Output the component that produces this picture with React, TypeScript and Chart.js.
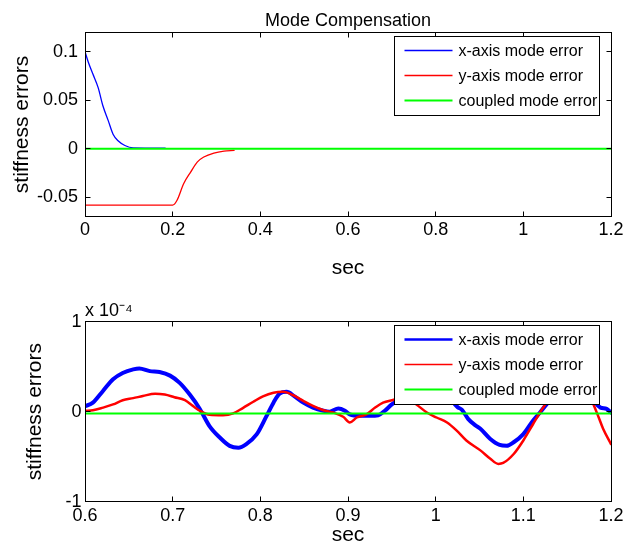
import { useEffect, useRef } from "react";
import { Chart, registerables } from "chart.js";

Chart.register(...registerables);

const FONT = "'Liberation Sans', Arial, Helvetica, sans-serif";

// ---------- shared ----------
const seriesLabels = ["x-axis mode error", "y-axis mode error", "coupled mode error"];
const seriesColors = ["#0000ff", "#ff0000", "#00ff00"];
const xAxisTitle = "sec";
const yAxisTitle = "stiffness errors";

// ---------- top panel ----------
const topTitle = "Mode Compensation";
const topXTime = [0, 0.007, 0.018, 0.03, 0.041, 0.053, 0.064, 0.076, 0.091, 0.11, 0.183];
const topXErr = [0.1, 0.09, 0.077, 0.063, 0.044, 0.029, 0.015, 0.008, 0.0034, 0.001, 0.0007];
const topYTime = [0, 0.2, 0.21, 0.225, 0.241, 0.256, 0.271, 0.294, 0.317, 0.34];
const topYErr = [-0.058, -0.058, -0.053, -0.036, -0.024, -0.0137, -0.0085, -0.0044, -0.0024, -0.0017];
const topCTime = [0, 1.2];
const topCErr = [0, 0];
const topXTickValues = [0, 0.2, 0.4, 0.6, 0.8, 1, 1.2];
const topXTickLabels = ["0", "0.2", "0.4", "0.6", "0.8", "1", "1.2"];
const topYTickValues = [-0.05, 0, 0.05, 0.1];
const topYTickLabels = ["-0.05", "0", "0.05", "0.1"];

// ---------- bottom panel (values in units of 1e-4) ----------
const botExponent = "x 10⁻⁴";
const botXTime = [0.6, 0.609, 0.6205, 0.632, 0.643, 0.655, 0.662, 0.674, 0.685, 0.697, 0.708, 0.7195, 0.731, 0.742, 0.754, 0.765, 0.775, 0.784, 0.796, 0.807, 0.815, 0.822, 0.83, 0.839, 0.849, 0.86, 0.872, 0.879, 0.889, 0.8965, 0.902, 0.914, 0.925, 0.9345, 0.942, 0.95, 0.965, 0.985, 1.005, 1.018, 1.025, 1.03, 1.037, 1.045, 1.051, 1.062, 1.073, 1.081, 1.089, 1.1, 1.111, 1.119, 1.125, 1.14, 1.16, 1.175, 1.182, 1.188, 1.195, 1.2];
const botXErr = [0.06, 0.1, 0.23, 0.36, 0.43, 0.47, 0.48, 0.45, 0.44, 0.4, 0.32, 0.19, 0.03, -0.16, -0.29, -0.38, -0.4, -0.36, -0.25, -0.05, 0.1, 0.2, 0.22, 0.17, 0.1, 0.045, 0.01, 0.0, 0.035, 0.01, -0.03, -0.046, -0.046, -0.04, 0.01, 0.08, 0.17, 0.22, 0.2, 0.12, 0.05, 0.02, -0.08, -0.15, -0.19, -0.3, -0.37, -0.38, -0.34, -0.25, -0.1, -0.01, 0.064, 0.22, 0.3, 0.22, 0.1, 0.045, 0.03, -0.01];
const botYTime = [0.6, 0.609, 0.6205, 0.632, 0.643, 0.655, 0.666, 0.68, 0.691, 0.702, 0.714, 0.723, 0.731, 0.742, 0.7575, 0.769, 0.78, 0.792, 0.803, 0.815, 0.826, 0.837, 0.849, 0.86, 0.872, 0.883, 0.8945, 0.902, 0.91, 0.921, 0.931, 0.94, 0.95, 0.962, 0.972, 0.978, 0.99, 1.001, 1.013, 1.024, 1.035, 1.051, 1.062, 1.0715, 1.077, 1.089, 1.1, 1.111, 1.119, 1.125, 1.14, 1.16, 1.175, 1.18, 1.186, 1.191, 1.2];
const botYErr = [0.01, 0.016, 0.045, 0.08, 0.127, 0.15, 0.174, 0.2, 0.19, 0.16, 0.127, 0.064, 0.01, -0.035, -0.04, -0.02, 0.04, 0.11, 0.17, 0.21, 0.22, 0.185, 0.12, 0.064, 0.016, -0.01, -0.057, -0.12, -0.065, -0.03, 0.045, 0.1, 0.127, 0.15, 0.12, 0.08, -0.01, -0.065, -0.12, -0.21, -0.32, -0.43, -0.52, -0.58, -0.57, -0.47, -0.32, -0.14, -0.01, 0.08, 0.25, 0.3, 0.18, 0.08, -0.065, -0.19, -0.36];
const botCTime = [0.6, 1.2];
const botCErr = [-0.02, -0.02];
const botXTickValues = [0.6, 0.7, 0.8, 0.9, 1, 1.1, 1.2];
const botXTickLabels = ["0.6", "0.7", "0.8", "0.9", "1", "1.1", "1.2"];
const botYTickValues = [-1, 0, 1];
const botYTickLabels = ["-1", "0", "1"];

const pts = (t: number[], v: number[]) => t.map((x, i) => ({ x, y: v[i] }));

const matlabAxes = {
  id: "matlabAxes",
  afterDatasetsDraw(chart: any, _args: any, opts: any) {
    const { ctx, chartArea: a } = chart;
    const xs = chart.scales.x;
    const ys = chart.scales.y;
    const L = Math.floor(a.left) + 0.5;
    const R = Math.floor(a.right) + 0.5;
    const T = Math.floor(a.top) + 0.5;
    const B = Math.floor(a.bottom) + 0.5;
    ctx.save();
    ctx.strokeStyle = "#000";
    ctx.lineWidth = 1;
    ctx.beginPath();
    for (const t of xs.ticks) {
      const p = Math.floor(xs.getPixelForValue(t.value)) + 0.5;
      ctx.moveTo(p, B);
      ctx.lineTo(p, B - 5);
      ctx.moveTo(p, T);
      ctx.lineTo(p, T + 5);
    }
    for (const t of ys.ticks) {
      const p = Math.floor(ys.getPixelForValue(t.value)) + 0.5;
      ctx.moveTo(L, p);
      ctx.lineTo(L + 5, p);
      ctx.moveTo(R, p);
      ctx.lineTo(R - 5, p);
    }
    ctx.stroke();
    ctx.strokeRect(L, T, R - L, B - T);

    // legend box inside the axes (top right)
    const w = 205;
    const h = 79;
    const x0 = Math.floor(R - 12 - w) + 0.5;
    const y0 = Math.floor(T + 4) + 0.5;
    ctx.fillStyle = "#fff";
    ctx.fillRect(x0, y0, w, h);
    ctx.strokeRect(x0, y0, w, h);
    ctx.font = `16px ${FONT}`;
    ctx.textBaseline = "middle";
    ctx.textAlign = "left";
    chart.data.datasets.forEach((ds: any, i: number) => {
      const y = y0 + 14 + i * 25;
      ctx.strokeStyle = ds.borderColor;
      ctx.lineWidth = opts.lineWidths[i];
      ctx.beginPath();
      ctx.moveTo(x0 + 10, y);
      ctx.lineTo(x0 + 58, y);
      ctx.stroke();
      ctx.fillStyle = "#000";
      ctx.fillText(ds.label, x0 + 64, y + 1);
    });
    ctx.restore();
  },
};

function makeConfig(p: any) {
  return {
    type: "line",
    data: {
      datasets: [
        { label: seriesLabels[0], data: pts(p.xt, p.xv), borderColor: seriesColors[0], borderWidth: p.widths[0], order: 3 },
        { label: seriesLabels[1], data: pts(p.yt, p.yv), borderColor: seriesColors[1], borderWidth: p.widths[1], order: 2 },
        { label: seriesLabels[2], data: pts(p.ct, p.cv), borderColor: seriesColors[2], borderWidth: p.widths[2], order: 1 },
      ],
    },
    options: {
      animation: false,
      responsive: false,
      devicePixelRatio: 1,
      events: [],
      elements: {
        point: { radius: 0 },
        line: { cubicInterpolationMode: "monotone", borderJoinStyle: "round", borderCapStyle: "round" },
      },
      layout: { padding: { left: 0, right: 31, top: 0, bottom: 0 } },
      plugins: {
        legend: { display: false },
        tooltip: { enabled: false },
        title: {
          display: true,
          text: p.title,
          fullSize: false,
          align: p.titleAlign,
          color: "#000",
          font: { family: FONT, size: 18, weight: "normal", lineHeight: 1.2 },
          padding: p.titlePadding,
        },
        matlabAxes: { lineWidths: p.legendWidths },
      },
      scales: {
        x: {
          type: "linear",
          min: p.xMin,
          max: p.xMax,
          grid: { display: false, drawTicks: false },
          border: { display: false },
          afterBuildTicks: (s: any) => { s.ticks = p.xTicks.map((value: number) => ({ value })); },
          afterFit: (s: any) => { s.height = p.xAxisHeight; },
          ticks: {
            color: "#000",
            padding: p.xTickPad,
            maxRotation: 0,
            autoSkip: false,
            font: { family: FONT, size: 18 },
            callback: (_v: any, i: number) => p.xLabels[i],
          },
          title: {
            display: true,
            text: xAxisTitle,
            color: "#000",
            font: { family: FONT, size: 21, lineHeight: 0.8 },
            padding: { top: 0, bottom: p.xTitlePad },
          },
        },
        y: {
          type: "linear",
          min: p.yMin,
          max: p.yMax,
          grid: { display: false, drawTicks: false },
          border: { display: false },
          afterBuildTicks: (s: any) => { s.ticks = p.yTicks.map((value: number) => ({ value })); },
          afterFit: (s: any) => { s.width = 85; },
          ticks: {
            color: "#000",
            padding: p.yTickPad,
            autoSkip: false,
            font: { family: FONT, size: 18 },
            callback: (_v: any, i: number) => p.yLabels[i],
          },
          title: {
            display: true,
            text: yAxisTitle,
            color: "#000",
            font: { family: FONT, size: 21, lineHeight: 1 },
            padding: { top: p.yTitlePad, bottom: 0 },
          },
        },
      },
    },
    plugins: [matlabAxes],
  };
}

export default function App() {
  const topRef = useRef<HTMLCanvasElement>(null);
  const botRef = useRef<HTMLCanvasElement>(null);

  useEffect(() => {
    const top = new Chart(topRef.current as any, makeConfig({
      title: topTitle, titleAlign: "center", titlePadding: { top: 10, bottom: 0.7 },
      xt: topXTime, xv: topXErr, yt: topYTime, yv: topYErr, ct: topCTime, cv: topCErr,
      widths: [1.3, 1.3, 2], legendWidths: [1.5, 1.5, 2],
      xMin: 0, xMax: 1.2, yMin: -0.07, yMax: 0.12,
      xTicks: topXTickValues, xLabels: topXTickLabels, yTicks: topYTickValues, yLabels: topYTickLabels,
      xAxisHeight: 68.3, xTickPad: 2.5, xTitlePad: 8.6, yTickPad: 7, yTitlePad: 12,
    }) as any);
    const bot = new Chart(botRef.current as any, makeConfig({
      title: botExponent, titleAlign: "start", titlePadding: { top: 15, bottom: 0 },
      xt: botXTime, xv: botXErr, yt: botYTime, yv: botYErr, ct: botCTime, cv: botCErr,
      widths: [4, 2.5, 2], legendWidths: [2.5, 1.5, 2],
      xMin: 0.6, xMax: 1.2, yMin: -1, yMax: 1,
      xTicks: botXTickValues, xLabels: botXTickLabels, yTicks: botYTickValues, yLabels: botYTickLabels,
      xAxisHeight: 43.3, xTickPad: 4, xTitlePad: 1, yTickPad: 3.5, yTitlePad: 25,
    }) as any);
    return () => { top.destroy(); bot.destroy(); };
  }, []);

  return (
    <div style={{ position: "absolute", left: 0, top: 0, width: 642, height: 545, background: "#fff", overflow: "hidden" }}>
      <canvas ref={topRef} width={642} height={285} style={{ position: "absolute", left: 0, top: 0, width: 642, height: 285 }} />
      <canvas ref={botRef} width={642} height={260} style={{ position: "absolute", left: 0, top: 285, width: 642, height: 260 }} />
    </div>
  );
}
